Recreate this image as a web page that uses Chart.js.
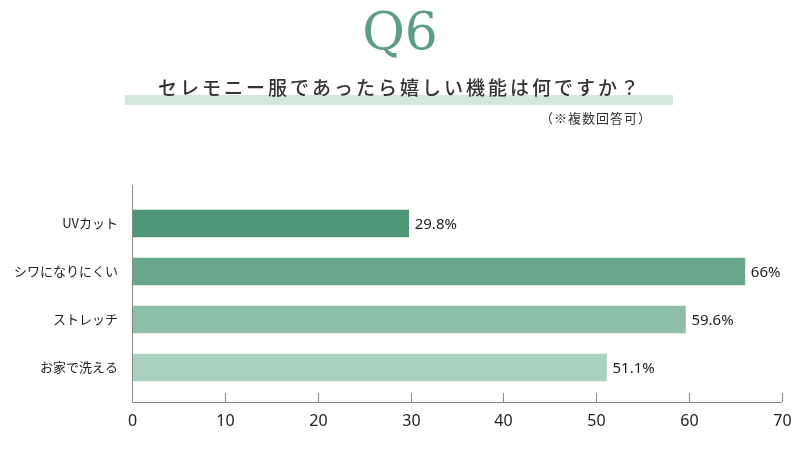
<!DOCTYPE html>
<html><head><meta charset="utf-8">
<script src="https://cdn.jsdelivr.net/npm/chart.js@4"></script>
<style>html,body{margin:0;padding:0;background:#fff}#w{width:800px;height:450px}</style>
</head><body><div id="w"><canvas id="c"></canvas></div>
<script>
const categories = ['UVカット','シワになりにくい','ストレッチ','お家で洗える'];
const values = [29.8, 66, 59.6, 51.1];
const valueLabels = ['29.8%','66%','59.6%','51.1%'];
const xTicks = [0,10,20,30,40,50,60,70];
const colors = ['#4f9678','#68a78b','#8dbfa8','#a9d1bf'];
const FONT = '"Noto Sans CJK JP", "Noto Sans", sans-serif';

const deco = {
  id:'deco',
  beforeDraw(ch){
    const c=ch.ctx; c.save();
    c.fillStyle='#fff'; c.fillRect(0,0,800,450);
    c.fillStyle='#d3e7dd'; c.fillRect(125,95,548,10);
    c.fillStyle='#5c9e84'; c.font='52px "DejaVu Serif", "Liberation Serif", serif';
    c.textAlign='center'; c.textBaseline='middle';
    c.fillText('Q6',400,35);
    c.fillStyle='#333'; c.font='500 19px '+FONT;
    c.letterSpacing='3px';
    c.fillText('セレモニー服であったら嬉しい機能は何ですか？',400,88);
    c.letterSpacing='1px';
    c.font='13px '+FONT;
    c.fillText('（※複数回答可）',596,118);
    c.restore();
  },
  afterDraw(ch){
    const c=ch.ctx, xs=ch.scales.x, ys=ch.scales.y; c.save();
    c.strokeStyle='#888'; c.lineWidth=1;
    const x0=Math.round(xs.getPixelForValue(0))+0.5;
    c.beginPath(); c.moveTo(x0,185); c.lineTo(x0,402.5); c.lineTo(xs.getPixelForValue(70),402.5); c.stroke();
    c.fillStyle='#222'; c.font='16px "Noto Sans", sans-serif'; c.textAlign='center'; c.textBaseline='middle';
    xTicks.forEach(t=>{const p=Math.round(xs.getPixelForValue(t))+0.5;
      if(t>0){c.beginPath();c.moveTo(p,393);c.lineTo(p,402);c.stroke();}
      c.fillText(String(t),p,421);});
    c.font='15px "Noto Sans", sans-serif'; c.textAlign='left';
    ch.getDatasetMeta(0).data.forEach((b,i)=>{c.fillText(valueLabels[i],b.x+6,b.y+1);});
    c.restore();
  }
};

new Chart(document.getElementById('c'),{
  type:'bar',
  data:{labels:categories,datasets:[{data:values,backgroundColor:colors,barThickness:27}]},
  options:{indexAxis:'y',responsive:true,maintainAspectRatio:false,animation:false,
    layout:{padding:{left:0,right:18,top:199.5,bottom:58.5}},
    plugins:{legend:{display:false},tooltip:{enabled:false}},
    scales:{
      x:{display:false,min:0,max:70},
      y:{grid:{display:false},border:{display:false},
         afterFit(s){s.width=132;},
         ticks:{color:'#222',padding:6,font:{family:FONT,size:13}}}
    }},
  plugins:[deco]
});
</script></body></html>
